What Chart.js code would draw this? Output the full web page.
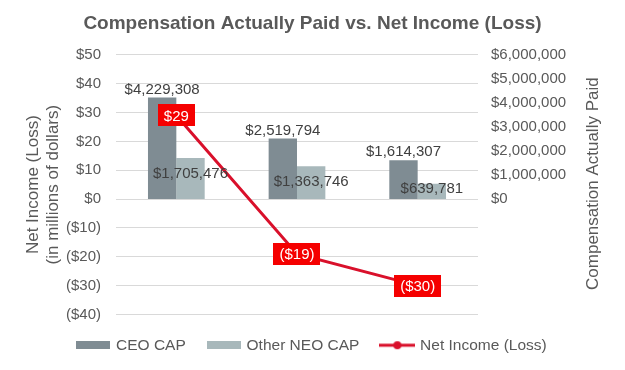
<!DOCTYPE html>
<html>
<head>
<meta charset="utf-8">
<script src="https://cdn.jsdelivr.net/npm/chart.js@4.4.1/dist/chart.umd.min.js"></script>
<style>
  html, body { margin: 0; padding: 0; background: #fff; }
  #wrap { width: 625px; height: 370px; }
</style>
</head>
<body>
<div id="wrap"><canvas id="capChart"></canvas></div>
<script>
// data
const years = ['Year 1', 'Year 2', 'Year 3'];
const ceoCap = [4229308, 2519794, 1614307];
const neoCap = [1705476, 1363746, 639781];
const netIncome = [29, -19, -30];   // millions
// axis ranges
const leftRange = [-40, 50, 10];
const rightRange = [-4800000, 6000000];
const rightTicks = [0, 1000000, 2000000, 3000000, 4000000, 5000000, 6000000];

const CEO_COLOR = '#7f8c93';
const NEO_COLOR = '#a8b8bb';
const LINE_COLOR = '#d9102b';
const BOX_RED = '#f50000';
const TEXT = '#595959';
const FONT = '"Liberation Sans", Arial, sans-serif';

Chart.defaults.font.family = FONT;
Chart.defaults.color = TEXT;

const money = v => '$' + Math.abs(v).toLocaleString('en-US');
const millions = v => v < 0 ? '(' + money(v) + ')' : money(v);

// legend swatches
function boxSwatch(color) {
  const c = document.createElement('canvas');
  c.width = 34; c.height = 8;
  const g = c.getContext('2d');
  g.fillStyle = color;
  g.fillRect(0, 0, 34, 8);
  return c;
}
function lineSwatch(color) {
  const c = document.createElement('canvas');
  c.width = 36; c.height = 10;
  const g = c.getContext('2d');
  g.strokeStyle = color; g.lineWidth = 3;
  g.beginPath(); g.moveTo(0, 5); g.lineTo(36, 5); g.stroke();
  g.fillStyle = color;
  g.beginPath(); g.arc(18, 5, 4, 0, Math.PI * 2); g.fill();
  return c;
}

// value labels (bars + red boxes on the line)
const valueLabels = {
  id: 'valueLabels',
  afterDatasetsDraw(chart) {
    const ctx = chart.ctx;
    ctx.save();
    ctx.font = '15px ' + FONT;
    ctx.textAlign = 'center';
    ctx.textBaseline = 'middle';
    ctx.fillStyle = '#404040';
    chart.getDatasetMeta(0).data.forEach((bar, i) => {
      ctx.fillText(money(ceoCap[i]), bar.x, bar.y - 8);
    });
    const base = chart.scales.y1.getPixelForValue(0);
    chart.getDatasetMeta(1).data.forEach((bar, i) => {
      ctx.fillText(money(neoCap[i]), bar.x, Math.min(bar.y + 16, base - 10));
    });
    chart.getDatasetMeta(2).data.forEach((pt, i) => {
      const txt = millions(netIncome[i]);
      const w = ctx.measureText(txt).width + 12;
      const h = 22;
      ctx.fillStyle = BOX_RED;
      ctx.fillRect(Math.round(pt.x - w / 2), Math.round(pt.y - h / 2), Math.round(w), h);
      ctx.fillStyle = '#fff';
      ctx.fillText(txt, pt.x, pt.y + 1);
    });
    ctx.restore();
  }
};

// right axis title reads bottom-to-top like the left one
const rightTitle = {
  id: 'rightTitle',
  afterDraw(chart) {
    const ctx = chart.ctx;
    const a = chart.chartArea;
    ctx.save();
    ctx.translate(593, (a.top + a.bottom) / 2 - 1);
    ctx.rotate(-Math.PI / 2);
    ctx.font = '17px ' + FONT;
    ctx.fillStyle = TEXT;
    ctx.textAlign = 'center';
    ctx.textBaseline = 'middle';
    ctx.fillText('Compensation Actually Paid', 0, 0);
    ctx.restore();
  }
};

const ctx = document.getElementById('capChart');
new Chart(ctx, {
  type: 'bar',
  data: {
    labels: years,
    datasets: [
      {
        label: 'CEO CAP',
        data: ceoCap,
        backgroundColor: CEO_COLOR,
        yAxisID: 'y1',
        categoryPercentage: 0.47,
        barPercentage: 1
      },
      {
        label: 'Other NEO CAP',
        data: neoCap,
        backgroundColor: NEO_COLOR,
        yAxisID: 'y1',
        categoryPercentage: 0.47,
        barPercentage: 1
      },
      {
        type: 'line',
        label: 'Net Income (Loss)',
        data: netIncome,
        borderColor: LINE_COLOR,
        backgroundColor: LINE_COLOR,
        borderWidth: 3,
        pointRadius: 0,
        yAxisID: 'y',
        order: -1
      }
    ]
  },
  options: {
    responsive: true,
    maintainAspectRatio: false,
    animation: false,
    devicePixelRatio: 1,
    layout: { padding: { top: 0, left: 0, right: 0, bottom: 7 } },
    plugins: {
      tooltip: { enabled: false },
      title: {
        display: true,
        text: 'Compensation Actually Paid vs. Net Income (Loss)',
        color: TEXT,
        font: { size: 19, weight: 'bold' },
        padding: { top: 12, bottom: 20 }
      },
      legend: {
        position: 'bottom',
        labels: {
          color: TEXT,
          font: { size: 15.5 },
          usePointStyle: true,
          pointStyleWidth: 30,
          padding: 23,
          generateLabels() {
            return [
              { text: 'CEO CAP', pointStyle: boxSwatch(CEO_COLOR), fillStyle: CEO_COLOR, strokeStyle: CEO_COLOR, lineWidth: 0, hidden: false, datasetIndex: 0, fontColor: TEXT },
              { text: 'Other NEO CAP', pointStyle: boxSwatch(NEO_COLOR), fillStyle: NEO_COLOR, strokeStyle: NEO_COLOR, lineWidth: 0, hidden: false, datasetIndex: 1, fontColor: TEXT },
              { text: 'Net Income (Loss)', pointStyle: lineSwatch(LINE_COLOR), fillStyle: LINE_COLOR, strokeStyle: LINE_COLOR, lineWidth: 0, hidden: false, datasetIndex: 2, fontColor: TEXT }
            ];
          }
        }
      }
    },
    scales: {
      x: { display: false },
      y: {
        position: 'left',
        min: leftRange[0],
        max: leftRange[1],
        afterFit(scale) { scale.width = 116; },
        ticks: {
          stepSize: leftRange[2],
          padding: 15,
          color: TEXT,
          font: { size: 15 },
          callback: v => millions(v)
        },
        grid: { color: '#d9d9d9', drawTicks: false },
        border: { display: false },
        title: {
          display: true,
          text: ['Net Income (Loss)', '(in millions of dollars)'],
          color: TEXT,
          font: { size: 17, lineHeight: 1.15 },
          padding: { top: 24, bottom: 0 }
        }
      },
      y1: {
        position: 'right',
        min: rightRange[0],
        max: rightRange[1],
        afterBuildTicks(scale) { scale.ticks = rightTicks.map(v => ({ value: v })); },
        afterFit(scale) { scale.width = 147; },
        ticks: {
          padding: 13,
          color: TEXT,
          font: { size: 15 },
          callback: v => money(v)
        },
        grid: { display: false, drawTicks: false },
        border: { display: false },
        title: { display: false }
      }
    }
  },
  plugins: [valueLabels, rightTitle]
});
</script>
</body>
</html>
